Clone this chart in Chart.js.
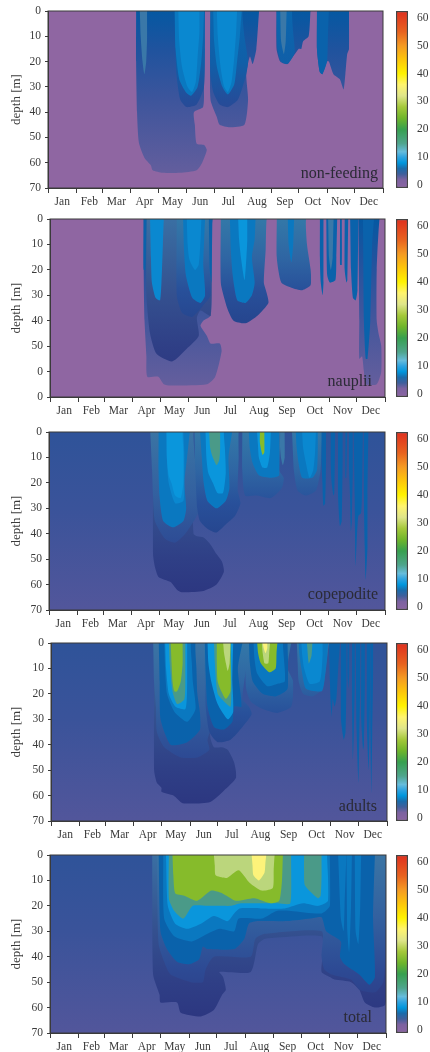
<!DOCTYPE html>
<html>
<head>
<meta charset="utf-8">
<style>
html, body { margin: 0; padding: 0; background: #fff; }
body { position: relative; width: 430px; height: 1052px; overflow: hidden; }
canvas { position: absolute; }
</style>
<script src="https://cdn.jsdelivr.net/npm/chart.js@4/dist/chart.umd.min.js"></script>
</head>
<body>
<script>
// Axis data
const monthNames = ['Jan', 'Feb', 'Mar', 'Apr', 'May', 'Jun', 'Jul', 'Aug', 'Sep', 'Oct', 'Nov', 'Dec'];
const monthStarts = [0, 31, 59, 90, 120, 151, 181, 212, 243, 273, 304, 334, 365];
const depthTicks = [0, 10, 20, 30, 40, 50, 60, 70];
const depthLabels = ['0', '10', '20', '30', '40', '50', '60', '70'];
const naupliiDepthLabels = ['0', '10', '20', '30', '40', '50', '0', '0'];
const colorbarTicks = [0, 10, 20, 30, 40, 50, 60];
const colorbarRange = [-1, 62.4];

// Contours: each list is one lobe as [day of year, depth in m]

// non-feeding
const nfEdgeA = [[96,0],[96,20],[97,40],[99,52],[105,58],[112,61],[114,63],[125,64],[144,64],[162,63],[168,60],[173,55],[170,53],[162,52.5],[160,45],[159,40],[169,38],[170,30],[171,0]];
const nfEdgeB = [[177,0],[177,35],[184,42],[187,45],[198,46],[214,45],[218,35],[216,25],[220,18],[223,21],[227,15],[230,0]];
const nfEdgeC = [[249,0],[249,15],[253,20],[260,21],[269,17],[273,15],[276,15],[278,12],[284,10],[286,0]];
const nfEdgeD = [[293,0],[293,15],[296,24],[299,25],[304,20],[306,20],[311,25],[318,27],[322,31],[324,25],[326,17],[328,15],[328,0]];
const nfDeepA = [[138,0],[139,15],[140,25],[144,35],[151,38],[162,37],[170,30],[171,15],[171,0]];
const nfDeepB = [[177,0],[177,25],[180,32],[187,37],[196,38],[207,35],[216,25],[218,20],[214,10],[212,0]];
const nfDeepC = [[249,0],[250,15],[254,20],[261,21],[267,18],[269,16],[267,8],[266,0]];
const nfFingerA = [[100,0],[101,10],[103,20],[105,25],[107,20],[108,10],[108,0]];
const nfFingerB = [[293,0],[293,15],[296,24],[299,25],[304,20],[305,10],[306,0]];
const nfMidA = [[138,0],[139,15],[143,27],[150,32],[156,33.5],[163,30],[167,20],[169,10],[170,0]];
const nfMidB = [[180,0],[181,12],[184,22],[190,30],[196,33],[203,29],[206,20],[209,10],[211,0]];
const nfBrightA = [[142,0],[143,12],[146,22],[152,30],[157,32],[161,28],[163,18],[165,8],[165,0]];
const nfBrightB = [[184,0],[185,10],[188,22],[192,30],[196,32],[200,28],[203,18],[205,8],[206,0]];
const nfStreakC = [[253,0],[254,12],[257,17],[259,12],[260,0]];

// nauplii
const naEdgeA = [[102,0],[102,20],[103,40],[105,54],[106,62],[118,62],[124,65],[131,65.5],[171,65],[180,62],[187,52],[185,49],[175,49],[171,46],[164,42],[167,40],[175,38],[176,30],[177,0]];
const naEdgeB = [[336,0],[337,40],[337,55],[340,54],[342,60],[344,65],[356,65],[361,60],[361,50],[358,45],[356,40],[356,20],[359,0]];
const naHaloA = [[105,0],[105,30],[109,45],[116,53],[133,56],[149,51],[162,46],[160,39],[164,36],[175,38],[176,0]];
const naHaloB = [[138,0],[138,30],[144,37],[155,38.5],[167,34],[175,30],[174,15],[173,0]];
const naHaloC = [[186,0],[186,25],[193,35],[200,40],[213,41],[226,38],[238,33],[236,29],[233,25],[235,12],[236,0]];
const naHaloD = [[247,0],[247,15],[252,25],[263,27],[275,28],[284,26],[284,20],[280,10],[279,0]];
const naStripA = [[102,0],[102,20],[104,20],[105,0]];
const naStripB = [[173,0],[174,20],[176,25],[177,0]];
const naMidA = [[109,0],[110,15],[111,25],[115,31],[120,32],[122,20],[123,10],[124,0]];
const naMidB = [[145,0],[146,12],[148,22],[155,31],[164,33],[169,30],[167,18],[168,8],[169,0]];
const naMidC = [[196,0],[197,12],[199,22],[204,32],[213,33],[220,30],[223,25],[220,15],[223,8],[224,0]];
const naMidD = [[259,0],[260,10],[263,17],[265,10],[266,0]];
const naBrightA = [[149,0],[150,10],[152,16],[158,20],[162,18],[164,8],[165,0]];
const naBrightB = [[205,0],[206,8],[208,15],[212,24],[214,15],[215,8],[215,0]];
const naFingers = [
    [[294,0],[294,15],[295,25],[297,30],[298,25],[298,0]],
    [[301,0],[302,22],[305,25],[311,24],[312,15],[313,0]],
    [[316,0],[316,18],[318,18],[318,0]],
    [[321,0],[321,20],[323,25],[324,24],[325,0]],
    [[327,0],[328,20],[330,31],[333,32],[335,28],[336,0]],
    [[341,0],[342,40],[344,55],[346,55],[349,40],[351,10],[353,0]]
];
const naInnerStreak = [[303,0],[304,15],[306,20],[308,15],[309,0]];

// copepodite
const coNavy = [[113,0],[113,48],[115,53],[119,57],[132,59],[139,62],[144,63],[168,62.5],[182,60],[190,55],[188,51],[182,48],[175,44],[168,41.5],[161,41],[157,40],[157,0]];
const coHaloA = [[110,0],[112,15],[113,25],[115,35],[126,42],[137,43.5],[148,40],[159,34],[164,30],[161,20],[157,0]];
const coDeepA = [[119,0],[119,15],[120,25],[124,35],[135,37.5],[146,35],[149,30],[147,20],[150,10],[153,0]];
const coMidA = [[127,0],[128,10],[130,20],[137,28],[146,27],[147,18],[147,8],[146,0]];
const coBrightA = [[128,0],[128,10],[130,17],[133,20],[137,25],[143,26],[146,20],[146,8],[145,0]];
const coHaloB = [[158,0],[159,15],[161,30],[164,35],[172,38],[182,39.5],[193,36],[202,33],[208,28],[205,23],[206,10],[206,0]];
const coDeepB = [[164,0],[166,10],[168,20],[172,27],[182,30],[192,27],[196,22],[195,10],[199,0]];
const coBrightB = [[170,0],[171,10],[173,16],[178,20],[183,24],[189,24],[192,16],[191,6],[190,0]];
const coTealB = [[174,0],[175,6],[177,9],[182,13],[185,11],[186,6],[186,0]];
const coHaloC = [[210,0],[210,15],[213,25],[226,25],[241,26],[253,22],[255,18],[250,15],[251,6],[251,0]];
const coDeepC = [[217,0],[218,6],[221,12],[228,17],[241,18],[250,17],[250,0]];
const coBrightC = [[226,0],[227,5],[228,10],[232,14],[237,14],[240,8],[241,0]];
const coGreenC = [[229,0],[229,4],[232,9],[234,8],[234,0]];
const coHaloD = [[251,0],[251,6],[252,10],[254,13],[256,10],[256,0]];
const coHaloE = [[264,0],[265,8],[266,15],[270,23],[279,25],[290,23],[295,15],[296,8],[297,0]];
const coDeepE = [[268,0],[269,6],[271,12],[275,18],[286,18],[291,15],[292,6],[292,0]];
const coMidE = [[275,0],[276,6],[279,12],[283,18],[287,15],[289,8],[290,0]];
const coFingers = [
    [[296,0],[296,12],[297,20],[298,29],[300,28],[301,10],[301,0]],
    [[306,0],[306,12],[307,20],[309,25],[310,24],[311,0]],
    [[314,0],[314,25],[316,37],[318,35],[319,10],[319,0]],
    [[322,0],[322,18],[323,18],[324,0]],
    [[326,0],[326,15],[327,25],[328,39],[329,35],[330,15],[330,0]],
    [[331,0],[332,25],[333,53],[334,45],[336,33],[339,32],[340,25],[341,0]],
    [[342,0],[342,25],[343,45],[344,58],[346,45],[346,25],[347,0]]
];

// adults
const adNavy = [[112,0],[112,50],[115,55],[120,57],[120,58.5],[133,60],[143,63],[173,62.5],[188,58],[201,53],[199,47],[192,42],[186,41],[177,41],[173,37],[170,0]];
const adHaloA = [[111,0],[112,15],[114,25],[115,35],[123,41],[141,45],[159,45],[172,42],[170,38],[177,30],[170,0]];
const adDeepA = [[117,0],[118,15],[119,30],[130,40],[148,39],[162,34],[162,28],[159,20],[158,10],[157,0]];
const adMidA = [[123,0],[124,10],[126,20],[134,27],[148,31],[157,26],[154,15],[153,8],[152,0]];
const adBrightA = [[124,0],[125,10],[128,20],[135,25],[146,26],[148,15],[148,0]];
const adTealA = [[128,0],[129,8],[132,19],[137,24],[145,22],[146,10],[146,0]];
const adGreenA = [[130,0],[131,8],[132,15],[134,19],[137,19],[141,15],[143,8],[143,0]];
const adHaloB = [[166,0],[167,12],[168,25],[172,35],[181,39],[195,38],[208,33],[218,28],[215,25],[208,22],[212,10],[215,0]];
const adDeepB = [[167,0],[168,12],[170,25],[177,33],[188,34],[197,31],[199,25],[207,25],[203,10],[208,0]];
const adBrightB = [[170,0],[171,8],[174,15],[181,24],[192,30],[198,27],[197,15],[198,0]];
const adTealB = [[177,0],[178,8],[181,20],[188,23],[195,25],[196,15],[195,0]];
const adGreenB = [[180,0],[180,8],[181,15],[185,19],[190,22],[195,19],[195,8],[195,0]];
const adPaleB = [[187,0],[188,4],[190,8],[192,11],[194,8],[195,0]];
const adHaloC = [[210,0],[211,8],[212,18],[217,23],[230,26],[246,27.5],[261,25],[263,15],[257,10],[261,0]];
const adDeepC = [[215,0],[216,8],[219,15],[230,20],[244,21],[257,18],[257,0]];
const adMidC = [[220,0],[221,6],[224,12],[235,17],[246,16],[254,15],[253,6],[252,0]];
const adGreenC = [[224,0],[225,4],[228,8],[237,11.5],[244,10],[245,4],[246,0]];
const adPaleC = [[229,0],[230,4],[232,8],[236,8],[237,4],[238,0]];
const adYellowC = [[230,0],[231,2],[233,4],[235,2],[235,0]];
const adHaloD = [[267,0],[268,8],[269,15],[274,20],[284,21],[295,18],[299,8],[302,0]];
const adDeepD = [[269,0],[270,5],[272,10],[277,18],[294,19],[297,15],[300,6],[301,0]];
const adMidD = [[272,0],[273,5],[275,10],[281,16],[292,15],[295,5],[295,0]];
const adTealD = [[278,0],[280,8],[283,5],[284,0]];
const adFingers = [
    [[302,0],[303,15],[304,25],[305,29],[306,22],[308,25],[310,22],[312,10],[314,0]],
    [[315,0],[315,30],[318,38],[320,35],[321,15],[321,0]],
    [[322,0],[322,12],[323,18],[324,12],[324,0]],
    [[327,0],[327,25],[328,46],[329,35],[330,15],[330,0]],
    [[331,0],[332,35],[334,55],[335,35],[336,15],[336,0]],
    [[337,0],[337,30],[339,42],[340,40],[341,15],[341,0]],
    [[343,0],[343,30],[345,50],[346,35],[347,10],[347,0]],
    [[347,0],[347,35],[348,59],[349,35],[350,10],[350,0]]
];

// total
const toNavy = [[111,0],[112,47],[119,55],[120,58],[138,58],[142,62],[164,63.5],[178,61],[187,55],[191,53],[188,48],[184,46],[218,46],[226,35],[233,33],[244,32.5],[295,32],[296,40],[295,46],[304,48],[309,49],[327,50],[336,53],[342,58],[353,60],[364,59],[366,50],[366,0]];
const toHalo = [[116,0],[118,35],[124,42],[131,47],[153,50],[166,50],[169,45],[178,40],[218,40],[223,33],[233,31],[295,30],[295,40],[298,45],[306,47],[327,49],[336,53],[353,54],[362,50],[364,40],[364,0]];
const toDeep = [[118,0],[120,30],[127,37],[138,42],[151,43],[162,41],[166,36],[171,37],[200,37],[211,33],[216,27],[226,26],[258,26],[283,25],[295,24.5],[300,30],[316,34],[315,40],[320,43],[336,47],[347,51],[353,48],[351,25],[353,0]];
const toMid = [[123,0],[124,25],[135,32],[154,34],[171,31],[184,29],[200,30],[205,25],[230,25],[246,22],[262,22],[295,23],[304,20],[304,0]];
const toGroove = [
    [[313,0],[316,25],[319,30],[320,20],[322,0]],
    [[322,0],[323,30],[325,38],[327,20],[328,0]],
    [[331,0],[332,30],[335,35],[337,20],[338,0]]
];
const toBright = [[126,0],[128,20],[136,27],[149,29],[164,27],[178,24],[193,26],[200,23],[206,21],[229,21],[255,21],[275,19],[291,20],[302,18],[301,0]];
const toTeal = [[129,0],[129,17],[135,22],[145,25],[155,20],[171,20],[184,20],[197,20],[207,19],[233,19],[248,19],[261,19],[262,0]];
const toTealB = [[276,0],[276,6],[277,12],[291,17],[294,16],[295,8],[295,0]];
const toGreen = [[133,0],[134,8],[136,15],[146,16],[160,18],[175,14],[187,15],[202,18],[222,17],[240,19],[249,18],[252,10],[253,0]];
const toPale = [[178,0],[179,4],[180,8],[192,9],[205,6],[217,11],[230,14],[242,13],[243,6],[244,0]];
const toYellow = [[219,0],[220,4],[221,8],[227,10],[233,7],[234,3],[235,0]];

// Colours by depth in m, painted back to front
const seaFlat = [[0, '#8f66a2'], [70, '#8f66a2']];
const seaBlue = [[0, '#2f5399'], [30, '#3a539a'], [70, '#52569b']];
const layerColors = {
    edge: [[0, '#0558a2'], [15, '#1f539e'], [35, '#3d559c'], [65, '#645e9d']],
    halo: [[0, '#3a74a4'], [25, '#33609f'], [45, '#2d4a94'], [65, '#2d3a83']],
    haloShort: [[0, '#3378a8'], [15, '#2f66a3'], [28, '#28509a'], [40, '#26468f']],
    navy: [[0, '#3a6fa3'], [30, '#34508f'], [50, '#2f3f86'], [65, '#2c3680']],
    deep: [[0, '#0a66ae'], [20, '#105fa8'], [40, '#2a4895']],
    dark: [[0, '#0a62ab'], [70, '#0a62ab']],
    mid: [[0, '#0a78c0'], [70, '#0a78c0']],
    soft: [[0, '#0a88d0'], [70, '#0a88d0']],
    bright: [[0, '#0a96dc'], [70, '#0a96dc']],
    teal: [[0, '#4a9a88'], [70, '#4a9a88']],
    green: [[0, '#86bb2b'], [70, '#86bb2b']],
    pale: [[0, '#bbd67c'], [70, '#bbd67c']],
    yellow: [[0, '#fdf37a'], [70, '#fdf37a']],
    streak: [[0, '#3a78a8'], [70, '#3a78a8']]
};
const colorbarStops = [[-1, '#8b64a2'], [2, '#7c62a0'], [4, '#3f5f9c'], [6, '#1a6cab'], [8, '#0096dc'], [10, '#2ea3e0'], [12, '#66bcdc'], [15, '#4fa58d'], [20, '#37a04f'], [24, '#6fb52b'], [28, '#a4c83a'], [32, '#dfe58a'], [36, '#fff46e'], [40, '#fff200'], [45, '#fdc60b'], [50, '#f59a23'], [55, '#e8621f'], [62.4, '#df2f1f']];

// Panels
const nonFeedingLayers = [
    ['edge', nfEdgeA], ['edge', nfEdgeB], ['edge', nfEdgeC], ['edge', nfEdgeD],
    ['deep', nfDeepA], ['deep', nfDeepB], ['deep', nfDeepC], ['streak', nfFingerA], ['dark', nfFingerB],
    ['mid', nfMidA], ['mid', nfMidB], ['soft', nfBrightA], ['soft', nfBrightB], ['streak', nfStreakC]
];
const naupliiLayers = [
    ['edge', naEdgeA], ['edge', naEdgeB], ['navy', naHaloA], ['haloShort', naHaloB], ['haloShort', naHaloC], ['haloShort', naHaloD],
    ['dark', naStripA], ['dark', naStripB], ['soft', naMidA], ['mid', naMidB], ['mid', naMidC], ['mid', naMidD],
    ['soft', naBrightA], ['bright', naBrightB],
    ...naFingers.map(f => ['dark', f]), ['streak', naInnerStreak]
];
const copepoditeLayers = [
    ['navy', coNavy], ['halo', coHaloA], ['mid', coDeepA], ['soft', coMidA], ['bright', coBrightA],
    ['haloShort', coHaloB], ['mid', coDeepB], ['bright', coBrightB], ['teal', coTealB],
    ['haloShort', coHaloC], ['mid', coDeepC], ['bright', coBrightC], ['green', coGreenC], ['streak', coHaloD],
    ['haloShort', coHaloE], ['mid', coDeepE], ['soft', coMidE],
    ...coFingers.map(f => ['dark', f])
];
const adultsLayers = [
    ['navy', adNavy], ['halo', adHaloA], ['dark', adDeepA], ['mid', adMidA], ['bright', adBrightA], ['teal', adTealA], ['green', adGreenA],
    ['haloShort', adHaloB], ['dark', adDeepB], ['bright', adBrightB], ['teal', adTealB], ['green', adGreenB], ['pale', adPaleB],
    ['haloShort', adHaloC], ['dark', adDeepC], ['mid', adMidC], ['green', adGreenC], ['pale', adPaleC], ['yellow', adYellowC],
    ['haloShort', adHaloD], ['mid', adDeepD], ['soft', adMidD], ['teal', adTealD],
    ...adFingers.map(f => ['dark', f])
];
const totalLayers = [
    ['navy', toNavy], ['halo', toHalo], ['dark', toDeep], ['mid', toMid],
    ...toGroove.map(f => ['mid', f]),
    ['bright', toBright], ['teal', toTeal], ['teal', toTealB], ['green', toGreen], ['pale', toPale], ['yellow', toYellow]
];

const panels = [
    { name: 'non-feeding', left: 48, right: 383, top: 11, bottom: 188, sea: seaFlat, layers: nonFeedingLayers, ticks: depthLabels, nameRight: 378, nameY: 174 },
    { name: 'nauplii', left: 50, right: 385, top: 219, bottom: 397, sea: seaFlat, layers: naupliiLayers, ticks: naupliiDepthLabels, nameRight: 372, nameY: 382 },
    { name: 'copepodite', left: 49, right: 385, top: 432, bottom: 610, sea: seaBlue, layers: copepoditeLayers, ticks: depthLabels, nameRight: 378, nameY: 595 },
    { name: 'adults', left: 51, right: 387, top: 643, bottom: 821, sea: seaBlue, layers: adultsLayers, ticks: depthLabels, nameRight: 377, nameY: 807 },
    { name: 'total', left: 50, right: 386, top: 855, bottom: 1033, sea: seaBlue, layers: totalLayers, ticks: depthLabels, nameRight: 372, nameY: 1018 }
];

const serif = "'Liberation Serif', serif";
const inkColor = '#3a3a3a';

function addCanvas(left, top, width, height) {
    const canvas = document.createElement('canvas');
    canvas.width = width;
    canvas.height = height;
    canvas.style.left = left + 'px';
    canvas.style.top = top + 'px';
    canvas.style.width = width + 'px';
    canvas.style.height = height + 'px';
    document.body.appendChild(canvas);
    return canvas;
}

function depthGradient(chart, stops) {
    const { ctx, scales } = chart;
    const from = stops[0][0];
    const to = stops[stops.length - 1][0];
    const y0 = scales.y ? scales.y.getPixelForValue(from) : NaN;
    const y1 = scales.y ? scales.y.getPixelForValue(to) : NaN;
    // Options also get resolved once before the scales are laid out
    if (!isFinite(y0) || !isFinite(y1)) return stops[0][1];
    const gradient = ctx.createLinearGradient(0, y0, 0, y1);
    stops.forEach(([value, color]) => gradient.addColorStop((value - from) / (to - from), color));
    return gradient;
}

// The filler clips to the x range of the first and last point, so overhangs need these ends
function lobePoints(lobe) {
    const days = lobe.map(p => p[0]);
    const points = lobe.map(p => ({ x: p[0], y: p[1] }));
    points.unshift({ x: Math.min(...days) - 0.5, y: 0 });
    points.push({ x: Math.max(...days) + 0.5, y: 0 });
    return points;
}

function drawPanel(panel) {
    const padTop = 6;
    const below = 30;
    const canvasWidth = panel.right + 12;
    const canvas = addCanvas(0, panel.top - padTop, canvasWidth, panel.bottom - panel.top + padTop + below);

    // First dataset is painted last, so the layers go in reversed
    const datasets = panel.layers.slice().reverse().map(([kind, lobe]) => ({
        data: lobePoints(lobe),
        showLine: true,
        tension: 0.2,
        borderWidth: 0,
        pointRadius: 0,
        fill: { value: 0 },
        backgroundColor: c => depthGradient(c.chart, layerColors[kind])
    }));

    new Chart(canvas, {
        type: 'scatter',
        data: { datasets },
        options: {
            responsive: false,
            animation: false,
            events: [],
            layout: { padding: { top: padTop, right: canvasWidth - panel.right, left: 0, bottom: 0 } },
            plugins: {
                legend: { display: false },
                tooltip: { enabled: false }
            },
            scales: {
                x: {
                    type: 'linear',
                    min: 0,
                    max: 365,
                    afterBuildTicks: axis => {
                        axis.ticks = [];
                        monthStarts.forEach((day, i) => {
                            axis.ticks.push({ value: day });
                            if (i < 12) axis.ticks.push({ value: (day + monthStarts[i + 1]) / 2 });
                        });
                    },
                    afterFit: axis => {
                        axis.height = below;
                        axis.paddingLeft = 0;
                        axis.paddingRight = 0;
                    },
                    grid: {
                        drawOnChartArea: false,
                        tickLength: 5,
                        tickColor: c => (c.index % 2 ? 'transparent' : inkColor)
                    },
                    border: { color: inkColor },
                    ticks: {
                        autoSkip: false,
                        maxRotation: 0,
                        padding: 2,
                        color: inkColor,
                        font: { family: serif, size: 11.5 },
                        callback: (value, i) => (i % 2 ? monthNames[(i - 1) / 2] : '')
                    }
                },
                y: {
                    min: 0,
                    max: 70,
                    reverse: true,
                    afterBuildTicks: axis => { axis.ticks = depthTicks.map(value => ({ value })); },
                    afterFit: axis => {
                        axis.width = panel.left;
                        axis.paddingTop = 0;
                        axis.paddingBottom = 0;
                    },
                    grid: { drawOnChartArea: false, tickLength: 3, tickColor: inkColor },
                    border: { color: inkColor },
                    title: {
                        display: true,
                        text: 'depth [m]',
                        color: inkColor,
                        padding: { top: 9, bottom: 0 },
                        font: { family: serif, size: 13 }
                    },
                    ticks: {
                        padding: 4,
                        color: inkColor,
                        font: { family: serif, size: 11.5 },
                        callback: (value, i) => panel.ticks[i]
                    }
                }
            }
        },
        plugins: [{
            id: 'panelDress',
            beforeDraw: chart => {
                const { ctx, chartArea: a } = chart;
                ctx.save();
                ctx.fillStyle = depthGradient(chart, panel.sea);
                ctx.fillRect(a.left, a.top, a.right - a.left, a.bottom - a.top);
                ctx.restore();
            },
            afterDatasetsDraw: chart => {
                const { ctx, chartArea: a } = chart;
                ctx.save();
                ctx.strokeStyle = inkColor;
                ctx.lineWidth = 1;
                ctx.strokeRect(a.left, a.top, a.right - a.left, a.bottom - a.top);
                ctx.fillStyle = '#2a2a35';
                ctx.font = '16px ' + serif;
                ctx.textAlign = 'right';
                ctx.textBaseline = 'middle';
                ctx.fillText(panel.name, panel.nameRight, panel.nameY - panel.top + padTop);
                ctx.restore();
            }
        }]
    });
}

function drawColorbar(panel) {
    const padTop = 6;
    const canvas = addCanvas(392, panel.top - padTop, 38, panel.bottom - panel.top + padTop * 2);
    new Chart(canvas, {
        type: 'bar',
        data: {
            labels: [''],
            datasets: [{
                data: [colorbarRange],
                barPercentage: 1,
                categoryPercentage: 1,
                borderColor: '#444',
                borderWidth: 1.5,
                borderSkipped: false,
                backgroundColor: c => depthGradient(c.chart, colorbarStops)
            }]
        },
        options: {
            responsive: false,
            animation: false,
            events: [],
            layout: { padding: { top: padTop, bottom: padTop, left: 4, right: 0 } },
            plugins: { legend: { display: false }, tooltip: { enabled: false } },
            scales: {
                x: { display: false },
                y: {
                    position: 'right',
                    min: colorbarRange[0],
                    max: colorbarRange[1],
                    afterBuildTicks: axis => { axis.ticks = colorbarTicks.map(value => ({ value })); },
                    afterFit: axis => {
                        axis.width = 22;
                        axis.paddingTop = 0;
                        axis.paddingBottom = 0;
                    },
                    grid: { display: false, drawTicks: false },
                    border: { display: false },
                    ticks: {
                        padding: 9,
                        color: inkColor,
                        font: { family: serif, size: 11.5 },
                        callback: value => String(value)
                    }
                }
            }
        }
    });
}

panels.forEach(panel => {
    drawPanel(panel);
    drawColorbar(panel);
});
</script>
</body>
</html>
